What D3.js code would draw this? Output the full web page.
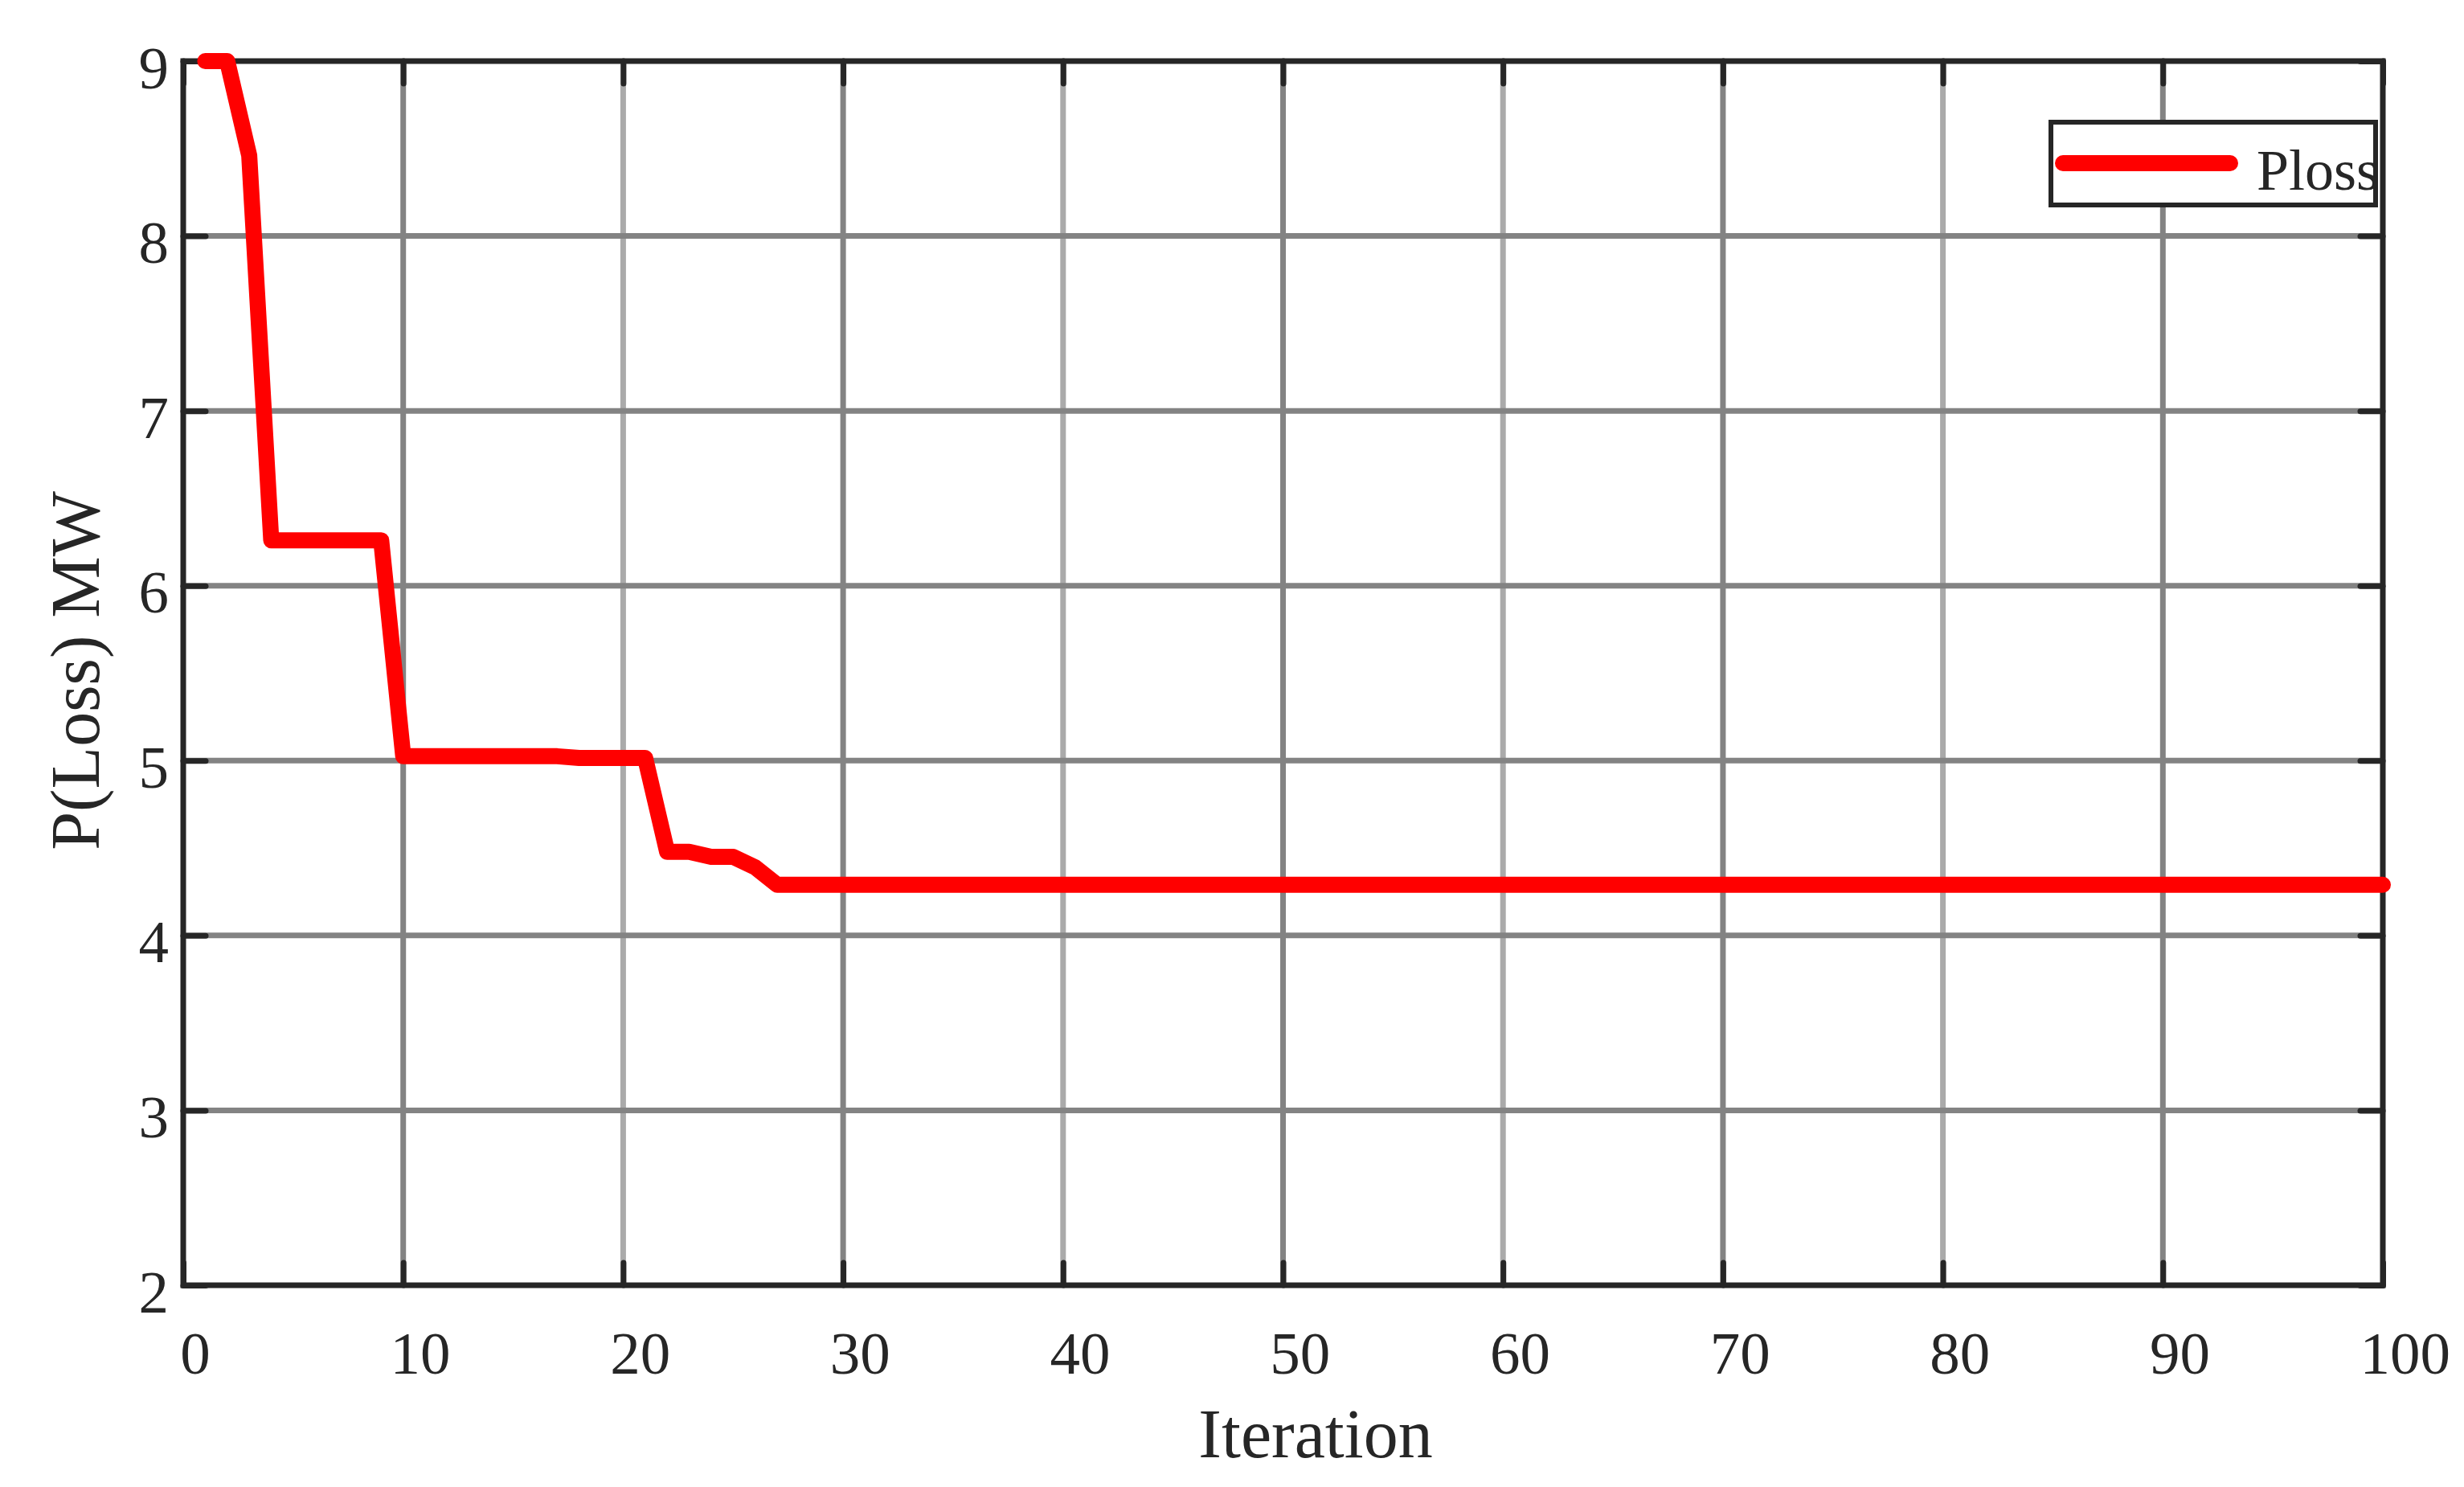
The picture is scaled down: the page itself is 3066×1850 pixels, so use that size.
<!DOCTYPE html>
<html>
<head>
<meta charset="utf-8">
<script src="https://cdn.jsdelivr.net/npm/d3@7"></script>
<style>
body { margin: 0; background: #fff; }
text { font-family: "Liberation Serif", "Times New Roman", serif; fill: #262626; }
</style>
</head>
<body>
<div id="chart"></div>
<script>
let iterations = [
    1, 2, 3, 4, 5, 6, 7, 8, 9, 10,
    11, 12, 13, 14, 15, 16, 17, 18, 19, 20,
    21, 22, 23, 24, 25, 26, 27, 28, 29, 30,
    31, 32, 33, 34, 35, 36, 37, 38, 39, 40,
    41, 42, 43, 44, 45, 46, 47, 48, 49, 50,
    51, 52, 53, 54, 55, 56, 57, 58, 59, 60,
    61, 62, 63, 64, 65, 66, 67, 68, 69, 70,
    71, 72, 73, 74, 75, 76, 77, 78, 79, 80,
    81, 82, 83, 84, 85, 86, 87, 88, 89, 90,
    91, 92, 93, 94, 95, 96, 97, 98, 99, 100
]

let ploss = [
    9.00, 9.00, 8.46, 6.26, 6.26, 6.26, 6.26, 6.26, 6.26, 5.025,
    5.025, 5.025, 5.025, 5.025, 5.025, 5.025, 5.025, 5.015, 5.015, 5.015,
    5.015, 4.478, 4.478, 4.45, 4.45, 4.39, 4.29, 4.29, 4.29, 4.29,
    4.29, 4.29, 4.29, 4.29, 4.29, 4.29, 4.29, 4.29, 4.29, 4.29,
    4.29, 4.29, 4.29, 4.29, 4.29, 4.29, 4.29, 4.29, 4.29, 4.29,
    4.29, 4.29, 4.29, 4.29, 4.29, 4.29, 4.29, 4.29, 4.29, 4.29,
    4.29, 4.29, 4.29, 4.29, 4.29, 4.29, 4.29, 4.29, 4.29, 4.29,
    4.29, 4.29, 4.29, 4.29, 4.29, 4.29, 4.29, 4.29, 4.29, 4.29,
    4.29, 4.29, 4.29, 4.29, 4.29, 4.29, 4.29, 4.29, 4.29, 4.29,
    4.29, 4.29, 4.29, 4.29, 4.29, 4.29, 4.29, 4.29, 4.29, 4.29
]

let xTicks = [0, 10, 20, 30, 40, 50, 60, 70, 80, 90, 100]
let yTicks = [2, 3, 4, 5, 6, 7, 8, 9]
let xLabel = "Iteration"
let yLabel = "P(Loss) MW"
let seriesName = "Ploss"

let margins = {top: 76, right: 101, bottom: 251, left: 228}
let fullWidth = 3066
let fullHeight = 1850
let width = fullWidth - margins.left - margins.right
let height = fullHeight - margins.top - margins.bottom

let axisColor = "#262626"
let tickLen = 28
let tickFont = 75

let svg = d3.select("#chart").append("svg")
    .attr("width", fullWidth)
    .attr("height", fullHeight)
    .style("display", "block")

svg.append("rect").attr("width", fullWidth).attr("height", fullHeight).attr("fill", "#fff")

let g = svg.append("g").attr("transform", `translate(${margins.left}, ${margins.top})`)

let xScale = d3.scaleLinear().domain([0, 100]).range([0, width])
let yScale = d3.scaleLinear().domain([2, 9]).range([height, 0])

// grid: the matlab export shows alternate vertical lines lighter
let inner = (ticks) => ticks.slice(1, ticks.length - 1)
g.append("g").selectAll("line")
    .data(inner(xTicks))
    .join("line")
    .attr("x1", d => xScale(d)).attr("x2", d => xScale(d))
    .attr("y1", 0).attr("y2", height)
    .attr("stroke", d => (d % 20 === 10) ? "#838383" : "#aaaaaa")
    .attr("stroke-width", 7)
g.append("g").selectAll("line")
    .data(inner(yTicks))
    .join("line")
    .attr("x1", 0).attr("x2", width)
    .attr("y1", d => yScale(d)).attr("y2", d => yScale(d))
    .attr("stroke", "#838383")
    .attr("stroke-width", 7)

// axes with inward ticks on all four sides
let styleAxis = (sel) => {
    sel.select(".domain").remove()
    sel.selectAll(".tick line").attr("stroke", axisColor).attr("stroke-width", 7).attr("stroke-linecap", "round")
    sel.selectAll("text").style("font-size", tickFont + "px").attr("fill", axisColor)
}

let xLabels = g.append("g")
    .attr("transform", `translate(0, ${height})`)
    .call(d3.axisBottom(xScale).tickValues(xTicks).tickSize(-tickLen).tickPadding(110).tickFormat(d3.format("d")))
    .call(styleAxis)
    .selectAll("text").attr("dy", "0")
// labels in the export sit a little right of their ticks, more so for wider ones
xLabels.attr("dx", function() { return 8 + 0.17 * this.getComputedTextLength() })

g.append("g")
    .call(d3.axisTop(xScale).tickValues(xTicks).tickSize(-tickLen).tickFormat(""))
    .call(styleAxis)

g.append("g")
    .call(d3.axisLeft(yScale).tickValues(yTicks).tickSize(-tickLen).tickPadding(18).tickFormat(d3.format("d")))
    .call(styleAxis)
    .selectAll("text").attr("dy", "0.44em")

g.append("g")
    .attr("transform", `translate(${width}, 0)`)
    .call(d3.axisRight(yScale).tickValues(yTicks).tickSize(-tickLen).tickFormat(""))
    .call(styleAxis)

g.append("rect")
    .attr("width", width).attr("height", height)
    .attr("fill", "none")
    .attr("stroke", axisColor)
    .attr("stroke-width", 7)

// the series
let points = iterations.map((it, i) => [it, ploss[i]])
let line = d3.line().x(d => xScale(d[0])).y(d => yScale(d[1]))

g.append("path")
    .datum(points)
    .attr("d", line)
    .attr("fill", "none")
    .attr("stroke", "#ff0000")
    .attr("stroke-width", 20)
    .attr("stroke-linejoin", "round")
    .attr("stroke-linecap", "round")

// axis titles
g.append("text")
    .attr("x", 1637 - margins.left)
    .attr("y", height + 214)
    .attr("text-anchor", "middle")
    .style("font-size", "86px")
    .text(xLabel)

g.append("text")
    .attr("transform", `translate(${123 - margins.left}, ${height / 2 - 3}) rotate(-90)`)
    .attr("text-anchor", "middle")
    .style("font-size", "86px")
    .text(yLabel)

// legend
let legend = g.append("g").attr("transform", `translate(${2552 - margins.left}, ${152 - margins.top})`)
legend.append("rect")
    .attr("width", 404).attr("height", 103)
    .attr("fill", "#fff")
    .attr("stroke", axisColor)
    .attr("stroke-width", 6)
legend.append("line")
    .attr("x1", 15).attr("x2", 223)
    .attr("y1", 51).attr("y2", 51)
    .attr("stroke", "#ff0000")
    .attr("stroke-width", 20)
    .attr("stroke-linecap", "round")
legend.append("text")
    .attr("x", 256).attr("y", 84)
    .style("font-size", "72px")
    .text(seriesName)
</script>
</body>
</html>
